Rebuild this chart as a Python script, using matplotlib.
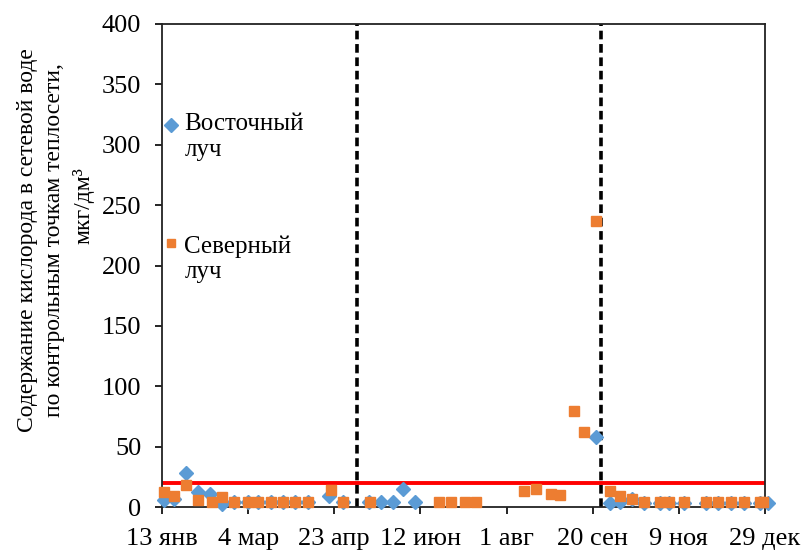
import matplotlib

matplotlib.use("Agg")
import matplotlib.pyplot as plt
import pandas as pd

plt.rcParams["font.family"] = ["Liberation Serif", "DejaVu Serif"]

BLUE = "#5B9BD5"
ORANGE = "#ED7D31"

# Восточный луч
east_dates = [
    "2019-01-14", "2019-01-20", "2019-01-27", "2019-02-03", "2019-02-10",
    "2019-02-17", "2019-02-24", "2019-03-04", "2019-03-10", "2019-03-17",
    "2019-03-24", "2019-03-31", "2019-04-08", "2019-04-20", "2019-04-28",
    "2019-05-13", "2019-05-20", "2019-05-27", "2019-06-02", "2019-06-09",
    "2019-09-22", "2019-09-30", "2019-10-06", "2019-10-13", "2019-10-20",
    "2019-10-29", "2019-11-03", "2019-11-12", "2019-11-25", "2019-12-02",
    "2019-12-09", "2019-12-17", "2019-12-26", "2019-12-31",
]
east_vals = [
    6, 6.5, 28.5, 12.5, 10.5,
    2.5, 4.5, 4.5, 4.5, 4.5,
    4.5, 4.5, 4.5, 9, 4.5,
    4.5, 4.5, 4.5, 14.5, 4.5,
    58, 3, 4.5, 6.5, 3.5,
    3.5, 3.5, 3.5, 3.5, 3.5,
    3.5, 3.5, 3.5, 3.5,
]

# Северный луч
north_dates = [
    "2019-01-14", "2019-01-20", "2019-01-27", "2019-02-03", "2019-02-11",
    "2019-02-17", "2019-02-24", "2019-03-04", "2019-03-10", "2019-03-17",
    "2019-03-24", "2019-03-31", "2019-04-08", "2019-04-21", "2019-04-28",
    "2019-05-14", "2019-06-23", "2019-06-30", "2019-07-08", "2019-07-14",
    "2019-08-11", "2019-08-18", "2019-08-27", "2019-09-01", "2019-09-09",
    "2019-09-15", "2019-09-22", "2019-09-30", "2019-10-06", "2019-10-13",
    "2019-10-20", "2019-10-29", "2019-11-03", "2019-11-12", "2019-11-25",
    "2019-12-02", "2019-12-09", "2019-12-17", "2019-12-26", "2019-12-28",
]
north_vals = [
    12.5, 9, 18, 5.5, 4,
    8.5, 4, 4, 4, 4,
    4, 4, 4, 14, 4,
    4, 4, 4, 4, 4,
    13, 14.5, 11, 10, 79.5,
    62.5, 237, 13.5, 9, 7,
    4, 4, 4, 4, 4,
    4, 4, 4, 4, 4,
]

tick_dates = [
    "2019-01-13", "2019-03-04", "2019-04-23", "2019-06-12",
    "2019-08-01", "2019-09-20", "2019-11-09", "2019-12-29",
]
tick_labels = ["13 янв", "4 мар", "23 апр", "12 июн", "1 авг", "20 сен", "9 ноя", "29 дек"]

season_bounds = ["2019-05-06", "2019-09-25"]
norm_level = 20

fig = plt.figure(figsize=(8.03, 5.52), dpi=100)
ax = fig.add_axes([162 / 803, 1 - 507 / 552, 603 / 803, 483 / 552])

ax.axhline(norm_level, color="#FF0000", lw=2.8, zorder=1)
for d in season_bounds:
    ax.axvline(pd.Timestamp(d), color="black", lw=2.6, dashes=(2.4, 1.3), zorder=1)

ax.plot(pd.to_datetime(east_dates), east_vals, ls="none", marker="D", ms=7.5,
        color=BLUE, zorder=3, clip_on=False)
ax.plot(pd.to_datetime(north_dates), north_vals, ls="none", marker="s", ms=7,
        color=ORANGE, zorder=4, clip_on=False)

ax.set_xlim(pd.Timestamp(tick_dates[0]), pd.Timestamp(tick_dates[-1]))
ax.set_ylim(0, 400)
ax.set_xticks(pd.to_datetime(tick_dates))
ax.set_xticklabels(tick_labels)
ax.set_yticks(range(0, 401, 50))
ax.tick_params(direction="out", length=5, width=1.2, labelsize=19)
ax.tick_params(axis="x", pad=10)
ax.tick_params(axis="y", pad=10)
for s in ax.spines.values():
    s.set_linewidth(1.3)
    s.set_color("#222222")

# legend drawn as markers + text, placed like the Excel original
ax.plot([0.015], [0.7915], transform=ax.transAxes, marker="D", ms=7,
        color=BLUE, ls="none")
ax.text(0.037, 0.766, "Восточный\nлуч", transform=ax.transAxes, fontsize=18,
        va="center", ha="left", linespacing=1.2)
ax.plot([0.015], [0.547], transform=ax.transAxes, marker="s", ms=6,
        color=ORANGE, ls="none")
ax.text(0.037, 0.513, "Северный\nлуч", transform=ax.transAxes, fontsize=18,
        va="center", ha="left", linespacing=1.2)

# y axis title: two centred lines, units line set slightly higher as in original
fig.text(41 / 803, 1 - 240 / 552,
         "Содержание кислорода в сетевой воде\nпо контрольным точкам теплосети,",
         rotation=90, ha="center", va="center", fontsize=17,
         multialignment="center", linespacing=1.4)
fig.text(83 / 803, 1 - 206 / 552, "мкг/дм³",
         rotation=90, ha="center", va="center", fontsize=17)

fig.savefig("out.png", dpi=100, facecolor="white")
